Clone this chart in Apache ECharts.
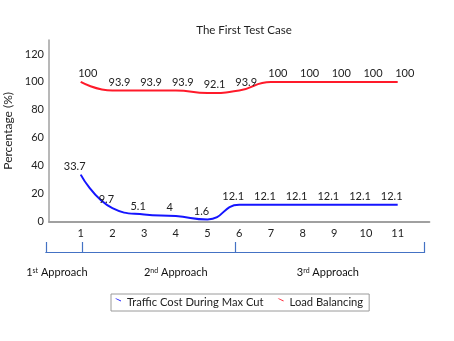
<!DOCTYPE html>
<html>
<head>
<meta charset="utf-8">
<script src="https://cdn.jsdelivr.net/npm/echarts@6/dist/echarts.min.js"></script>
<style>
  html, body { margin: 0; padding: 0; background: #fff; }
  #chart { width: 454px; height: 341px; }
</style>
</head>
<body>
<div id="chart"></div>
<script>
// 横轴刻度
const steps = [1, 2, 3, 4, 5, 6, 7, 8, 9, 10, 11]
const trafficCost = [33.7, 9.7, 5.1, 4, 1.6, 12.1, 12.1, 12.1, 12.1, 12.1, 12.1]
const loadBalancing = [100, 93.9, 93.9, 93.9, 92.1, 93.9, 100, 100, 100, 100, 100]
const yTicks = [0, 20, 40, 60, 80, 100, 120]

// 三个阶段的分界（横轴单位）和标签
const approachBounds = [-0.1, 1.05, 5.88, 11.85]
const approachLabelAt = [0.25, 4, 8.8]
const approachNum = ['1', '2', '3']
const approachSup = ['st', 'nd', 'rd']

const FONT = 'Lato'
const chart = echarts.init(document.getElementById('chart'))

const option = {
  animation: false,
  textStyle: { fontFamily: FONT },
  title: {
    text: 'The First Test Case',
    left: 239,
    textAlign: 'center',
    top: 19,
    textStyle: { fontFamily: FONT, fontSize: 11.5, fontWeight: 'normal', color: '#222' }
  },
  legend: {
    left: 111,
    top: 294,
    padding: [3, 6, 3, 4],
    itemGap: 14,
    itemWidth: 6,
    itemHeight: 8,
    borderColor: '#9a9a9a',
    borderWidth: 1,
    icon: 'path://M0,0 L1.5,0 L6,2 L6,3 Z M0,8 L0.01,8 L0,8.01 Z',
    textStyle: { fontFamily: FONT, fontSize: 11.2, color: '#222', padding: [0, 0, 0, 1] },
    data: ['Traffic Cost During Max Cut', 'Load Balancing']
  },
  grid: [
    { left: 49, right: 24.6, top: 40, bottom: 119.3, outerBoundsMode: 'none', containLabel: false },
    { left: 45.8, right: 29.4, top: 240, height: 12, outerBoundsMode: 'none', containLabel: false }
  ],
  xAxis: [
    {
      type: 'value',
      gridIndex: 0,
      min: 0,
      max: 12,
      interval: 1,
      splitLine: { show: false },
      axisTick: { show: false },
      axisLine: { lineStyle: { color: '#a0a0a0', width: 2 } },
      axisLabel: {
        showMinLabel: false,
        showMaxLabel: false,
        margin: 6,
        fontFamily: FONT,
        fontSize: 11,
        color: '#222'
      }
    },
    {
      type: 'value',
      gridIndex: 1,
      min: approachBounds[0],
      max: approachBounds[approachBounds.length - 1],
      splitLine: { show: false },
      axisLine: { lineStyle: { color: '#4472c4', width: 1.2 } },
      axisTick: {
        show: true,
        inside: true,
        length: 10,
        customValues: approachBounds,
        lineStyle: { color: '#4472c4', width: 1.2 }
      },
      axisLabel: {
        customValues: approachLabelAt,
        margin: 15,
        fontFamily: FONT,
        fontSize: 11,
        color: '#111',
        formatter: (v) => {
          const i = approachLabelAt.indexOf(v)
          if (i < 0) return ''
          return approachNum[i] + '{sup|' + approachSup[i] + '} Approach'
        },
        rich: {
          sup: { fontFamily: FONT, fontSize: 7, verticalAlign: 'top', lineHeight: 8, color: '#111' }
        }
      }
    }
  ],
  yAxis: [
    {
      type: 'value',
      gridIndex: 0,
      position: 'left',
      min: 0,
      max: 130,
      interval: 20,
      name: 'Percentage (%)',
      nameLocation: 'middle',
      nameGap: 29,
      nameTextStyle: { fontFamily: FONT, fontSize: 12, color: '#222' },
      splitLine: { show: false },
      axisTick: { show: false },
      axisLine: { show: true, onZero: false, lineStyle: { color: '#a0a0a0', width: 1.5 } },
      axisLabel: {
        showMaxLabel: false,
        margin: 5,
        fontFamily: FONT,
        fontSize: 11,
        color: '#222',
        formatter: (v) => (yTicks.includes(v) ? String(v) : '')
      }
    },
    { type: 'value', gridIndex: 1, show: false }
  ],
  series: [
    {
      name: 'Traffic Cost During Max Cut',
      type: 'line',
      data: steps.map((s, i) => [s, trafficCost[i]]),
      smooth: 0.5,
      symbol: 'circle',
      symbolSize: 0,
      color: '#1515ff',
      lineStyle: { width: 2, color: '#1515ff' },
      label: {
        show: true,
        position: 'top',
        distance: 3,
        offset: [-6, 0],
        fontFamily: FONT,
        fontSize: 11,
        color: '#222'
      }
    },
    {
      name: 'Load Balancing',
      type: 'line',
      data: steps.map((s, i) => [s, loadBalancing[i]]),
      smooth: 0.5,
      symbol: 'circle',
      symbolSize: 0,
      color: '#ff1a2a',
      lineStyle: { width: 2, color: '#ff1a2a' },
      label: {
        show: true,
        position: 'top',
        distance: 3,
        offset: [7, 0],
        fontFamily: FONT,
        fontSize: 11,
        color: '#222'
      }
    }
  ]
}

chart.setOption(option)
</script>
</body>
</html>
